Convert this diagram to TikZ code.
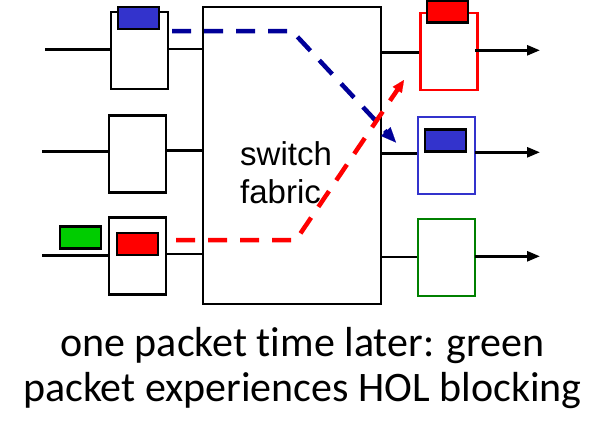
\documentclass[tikz,border=0pt]{standalone}
\usepackage{fontspec}
\setmainfont{Liberation Sans}
\newfontfamily\capfont[Ligatures=NoCommon]{Carlito}
\usetikzlibrary{positioning,arrows.meta,calc}

\definecolor{pktblue}{RGB}{51,51,204}
\definecolor{pathblue}{RGB}{0,0,153}
\definecolor{pktgreen}{RGB}{0,204,0}
\definecolor{boxgreen}{RGB}{0,128,0}

\begin{document}
\begin{tikzpicture}[
  x=1pt, y=-1pt,
  wire/.style={line width=2.6pt},
  buf/.style={draw, line width=2.6pt, minimum width=57pt, minimum height=77pt, inner sep=0pt},
  pkt/.style={draw, line width=2.2pt, minimum width=41pt, minimum height=22pt, inner sep=0pt},
  outarr/.style={wire, -{Triangle[length=13pt,width=10pt]}},
  move/.style={line width=4.5pt, dash pattern=on 19pt off 13pt}
]
\useasboundingbox (0,0) rectangle (608,440);
% --- switch fabric ---
\node[draw, line width=2.6pt, minimum width=178pt, minimum height=297pt, inner sep=0pt] (fabric) at (292,155.5) {};
\node[align=left, font=\fontsize{33}{38}\selectfont, anchor=base west, inner sep=0pt] (fabtxt) at (240,203) {switch\\fabric};
% --- input ports ---
\node[buf] (inA) at (139.5,50.5) {};
\node[buf] (inB) at (137.3,154.2) {};
\node[buf] (inC) at (137.5,256) {};
\coordinate (srcA) at (45,49.5);
\coordinate (srcB) at (42,151.7);
\coordinate (srcC) at (42,255.3);
\draw[wire] (srcA) -- (srcA -| inA.west);
\draw[wire] (srcB) -- (srcB -| inB.west);
\draw[wire] (srcC) -- (srcC -| inC.west);
\draw[wire] ($(inA.east)+(0,-1.5)$) -- ($(inA.east -| fabric.west)+(0,-1.5)$);
\draw[wire] ($(inB.east)+(0,-3.5)$) -- ($(inB.east -| fabric.west)+(0,-3.5)$);
\draw[wire] ($(inC.east)+(0,-2)$) -- ($(inC.east -| fabric.west)+(0,-2)$);
% --- output ports ---
\node[buf, draw=red] (outA) at (449,51.5) {};
\node[buf, draw=pktblue] (outB) at (446.5,155.5) {};
\node[buf, draw=boxgreen] (outC) at (446.5,257.5) {};
\draw[wire] ($(fabric.east |- outA.west)+(-2,1)$) -- ($(outA.west)+(0,1)$);
\draw[wire] ($(fabric.east |- outB.west)+(-2,-2)$) -- ($(outB.west)+(0,-2)$);
\draw[wire] ($(fabric.east |- outC.west)+(-2,-0.5)$) -- ($(outC.west)+(0,-0.5)$);
\coordinate (dstA) at (540,50.3);
\coordinate (dstB) at (540,152.3);
\coordinate (dstC) at (540,256.3);
\draw[outarr] ($(outA.east)+(-4,-1.2)$) -- (dstA);
\draw[outarr] ($(outB.east)+(-1,-3.2)$) -- (dstB);
\draw[outarr] ($(outC.east)+(-1,-1.2)$) -- (dstC);
% --- packets ---
\node[pkt, fill=pktblue] (pktA) at (138.5,18) {};
\node[pkt, fill=red] (pktC) at (137.5,244) {};
\node[pkt, fill=pktgreen] (pktG) at (80.5,237.5) {};
\node[pkt, fill=red] (pktR) at (447.5,11.5) {};
\node[pkt, fill=pktblue] (pktB) at (445.5,140.5) {};
% --- packet moves ---
\coordinate (blueS) at (172,31);
\coordinate (blueK) at (292,31);
\coordinate (blueE) at (396,142.5);
\coordinate (redS) at (176,240);
\coordinate (redK) at (296,240);
\coordinate (redE) at (404,80);
\draw[move, pathblue] (blueS) -- (blueK) -- ($(blueE)!14pt!(blueK)$);
\draw[pathblue, -{Triangle[length=15pt,width=13pt]}, line width=0.1pt] ($(blueE)!14pt!(blueK)$) -- (blueE);
\draw[move, red] (redS) -- (redK) -- ($(redE)!11pt!(redK)$);
\draw[red, -{Triangle[length=12pt,width=11pt]}, line width=0.1pt] ($(redE)!11pt!(redK)$) -- (redE);
% --- caption ---
\node[font=\capfont\fontsize{42}{45}\selectfont, align=center, anchor=base, inner sep=0pt] (caption) at (302.5,401.7) {one packet time later: green\\packet experiences HOL blocking};
\end{tikzpicture}
\end{document}
